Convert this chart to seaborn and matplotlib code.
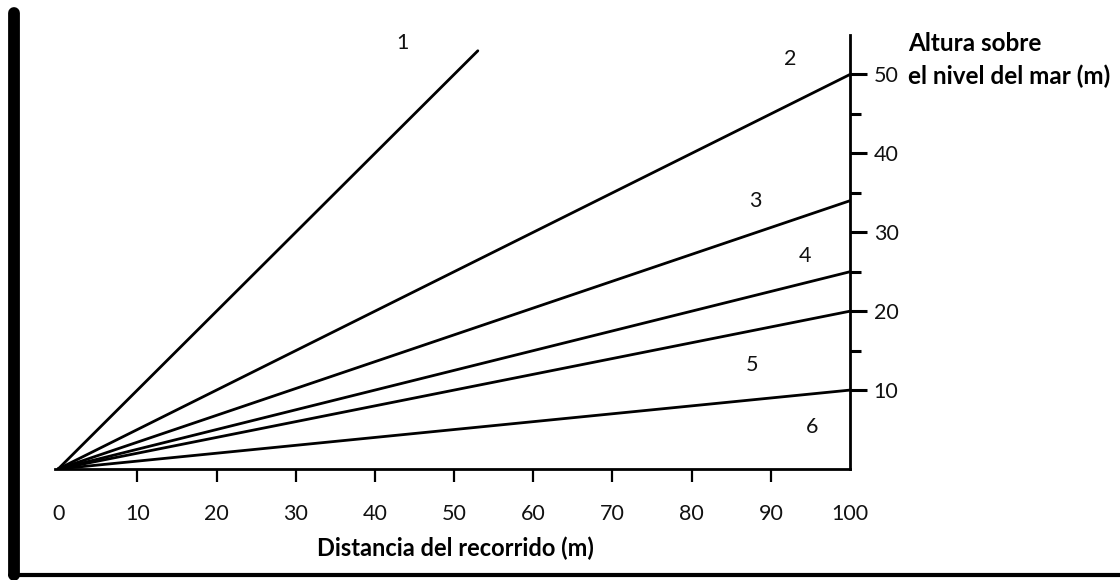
import matplotlib
matplotlib.use("Agg")
import matplotlib.pyplot as plt
import seaborn as sns
import pandas as pd
from matplotlib.lines import Line2D

# ---- data ----
line_ids = ["1", "2", "3", "4", "5", "6"]
end_x = [53, 100, 100, 100, 100, 100]
end_y = [53, 50, 34, 25, 20, 10]
label_x = [43.5, 92.5, 88, 94.3, 87.6, 95.2]
label_y = [54, 52, 34, 27, 13.2, 5.3]
x_ticks = [0, 10, 20, 30, 40, 50, 60, 70, 80, 90, 100]
y_ticks = [10, 20, 30, 40, 50]
y_minor = [15, 25, 35, 45]
x_title = "Distancia del recorrido (m)"
y_title = "Altura sobre\nel nivel del mar (m)"

sns.set_theme(style="white")
plt.rcParams["font.family"] = ["Lato", "DejaVu Sans"]

fig = plt.figure(figsize=(11.2, 5.8), dpi=100)
W, H = 1120, 580
x0, x1 = 55, 850
y0, y1 = 469, 35
ax = fig.add_axes([x0 / W, (H - y0) / H, (x1 - x0) / W, (y0 - y1) / H])

rows = []
for lid, xe, ye in zip(line_ids, end_x, end_y):
    rows.append({"line": lid, "x": 0, "y": 0})
    rows.append({"line": lid, "x": xe, "y": ye})
df = pd.DataFrame(rows)
sns.lineplot(data=df, x="x", y="y", units="line", estimator=None,
             color="black", linewidth=2.0, ax=ax, legend=False)

for lid, lx, ly in zip(line_ids, label_x, label_y):
    ax.text(lx, ly, lid, ha="center", va="center", fontsize=15.5,
            color="#111111")

ax.set_xlim(-0.4, 100)
ax.set_ylim(0, 55)
ax.set_xlabel("")
ax.set_ylabel("")

for s in ["left", "top"]:
    ax.spines[s].set_visible(False)
for s in ["right", "bottom"]:
    ax.spines[s].set_color("black")
    ax.spines[s].set_linewidth(2.0)

ax.set_xticks(x_ticks)
ax.set_xticklabels([str(t) for t in x_ticks])
ax.tick_params(axis="x", direction="out", length=9, width=1.6, color="black",
               pad=16, labelsize=15.5, labelcolor="#111111", bottom=True)
xt = ax.xaxis.get_major_ticks()
xt[0].tick1line.set_visible(False)
xt[-1].tick1line.set_visible(False)

ax.yaxis.tick_right()
ax.set_yticks(y_ticks)
ax.set_yticklabels([str(t) for t in y_ticks])
ax.set_yticks(y_minor, minor=True)
ax.tick_params(axis="y", which="major", direction="out", length=12, width=2.2,
               color="black", pad=5, labelsize=15.5, labelcolor="#111111",
               right=True, left=False)
ax.tick_params(axis="y", which="minor", direction="out", length=8, width=2.2,
               color="black", right=True, left=False)
ax.grid(False)

fig.text(455 / W, 1 - 548 / H, x_title, ha="center", va="center",
         fontsize=17, fontweight="bold", color="black")
fig.text(908 / W, 1 - 60 / H, y_title, ha="left", va="center",
         fontsize=17.5, fontweight="bold", color="black", linespacing=1.45)

# decorative scanned frame (left and bottom edges)
fig.add_artist(Line2D([14 / W, 14 / W], [1 - 13 / H, 1 - 575 / H],
                      transform=fig.transFigure, color="black", linewidth=8.5))
fig.add_artist(Line2D([10 / W, 1.0], [1 - 575 / H, 1 - 575 / H],
                      transform=fig.transFigure, color="black", linewidth=3))

fig.savefig("out.png", dpi=100, facecolor="white")
